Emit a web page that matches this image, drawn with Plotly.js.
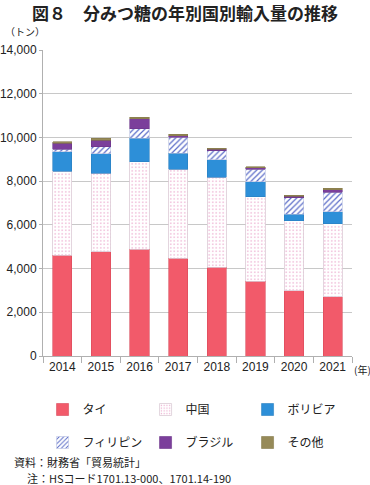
<!DOCTYPE html>
<html><head><meta charset="utf-8">
<script src="https://cdn.plot.ly/plotly-3.0.1.min.js"></script>
<style>body{margin:0;background:#fff}#c{width:370px;height:485px}</style>
</head><body><div id="c"></div>
<script>
const years = ['2014','2015','2016','2017','2018','2019','2020','2021'];
const thai       = [4600, 4780, 4880, 4480, 4050, 3420, 2980, 2720];
const china      = [3850, 3580, 4000, 4060, 4120, 3870, 3200, 3320];
const bolivia    = [ 900,  900, 1080,  730,  810,  690,  300,  550];
const philippines= [ 120,  320,  430,  730,  400,  560,  750,  910];
const brazil     = [ 270,  300,  460,   80,   70,   80,   70,  100];
const other      = [  60,   90,   70,   60,   60,   50,   50,   70];
const names = ['タイ','中国','ボリビア','フィリピン','ブラジル','その他'];
const yTicks = [0,2000,4000,6000,8000,10000,12000,14000];
const yTickText = ['0','2,000','4,000','6,000','8,000','10,000','12,000','14,000'];

const JP = '"Noto Sans CJK JP", sans-serif';
const NUM = '"Liberation Sans", Arial, "Noto Sans CJK JP", sans-serif';

const series = [thai, china, bolivia, philippines, brazil, other];
const styles = [
  {color:'#f25a6a', line:{color:'#d84a5a', width:0.6}},
  {color:'#ffffff', line:{color:'#dccbd6', width:0.8}, pattern:{shape:'.', fgcolor:'#ea9fc8', bgcolor:'#ffffff', size:3.5, solidity:0.15}},
  {color:'#2d8fd8', line:{color:'#2a7fc0', width:0.6}},
  {color:'#ffffff', line:{color:'#b8c0e0', width:0.6}, pattern:{shape:'/', fgcolor:'#5a6cc8', bgcolor:'#ffffff', size:4, solidity:0.3}},
  {color:'#7b3f9b', line:{color:'#6a3388', width:0.6}},
  {color:'#968a58', line:{color:'#857a4a', width:0.6}}
];
const legIds = ['legend','legend2','legend3','legend4','legend5','legend6'];
const traces = series.map((s,i)=>({
  type:'bar', x:years, y:s, name:names[i], marker:styles[i],
  legend: legIds[i], hoverinfo:'skip'
}));

const legX = [0.115, 0.115+103/370, 0.115+205/370];
const legY = [1-395/485, 1-428/485];
function leg(i){
  return {orientation:'h', xref:'container', yref:'container', x:legX[i%3], y:legY[Math.floor(i/3)],
    xanchor:'left', yanchor:'top', font:{family:JP, size:12, color:'#222'}, itemclick:false, bgcolor:'rgba(0,0,0,0)'};
}

const layout = {
  width:370, height:485,
  margin:{l:43, r:18, t:50, b:129, autoexpand:false},
  paper_bgcolor:'#fff', plot_bgcolor:'#fff',
  barmode:'stack', bargap:0.5,
  font:{family:JP, size:12, color:'#222'},
  title:{text:'<b>図８　分みつ糖の年別国別輸入量の推移</b>', x:0.5, xanchor:'center', y:1, yref:'container', yanchor:'top', pad:{t:8}, font:{family:JP, size:17, color:'#222'}},
  xaxis:{type:'category', showline:true, linecolor:'#b0b0b0', linewidth:1,
    ticks:'outside', tickson:'boundaries', ticklen:6, tickcolor:'#b0b0b0',
    tickfont:{family:NUM, size:12, color:'#222'}, showgrid:false, fixedrange:true},
  yaxis:{range:[0,14000], tickvals:yTicks, ticktext:yTickText,
    showline:true, linecolor:'#b0b0b0', linewidth:1, showgrid:true, gridcolor:'#c8c8c8', gridwidth:1,
    ticks:'outside', ticklen:3, tickcolor:'#b0b0b0', zeroline:false,
    tickfont:{family:NUM, size:12, color:'#222'}, fixedrange:true},
  showlegend:true,
  annotations:[
    {text:'（トン）', xref:'paper', yref:'paper', x:-0.13, y:1.06, xanchor:'left', yanchor:'middle', showarrow:false, font:{family:JP, size:10, color:'#222'}},
    {text:'(年)', xref:'paper', yref:'paper', x:1.0, y:-0.045, xanchor:'left', yanchor:'middle', showarrow:false, font:{family:JP, size:10, color:'#222'}},
    {text:'資料：財務省「貿易統計」', xref:'paper', yref:'paper', x:(12-43.3)/308.4, y:(355.7-462)/306, xanchor:'left', yanchor:'middle', showarrow:false, font:{family:JP, size:11, color:'#222'}},
    {text:'注：HSコード1701.13-000、1701.14-190', xref:'paper', yref:'paper', x:(25-43.3)/308.4, y:(355.7-478)/306, xanchor:'left', yanchor:'middle', showarrow:false, font:{family:JP, size:11, color:'#222'}}
  ]
};
legIds.forEach((id,i)=>{ layout[id] = leg(i); });
Plotly.newPlot('c', traces, layout, {displayModeBar:false, staticPlot:true});
</script></body></html>
